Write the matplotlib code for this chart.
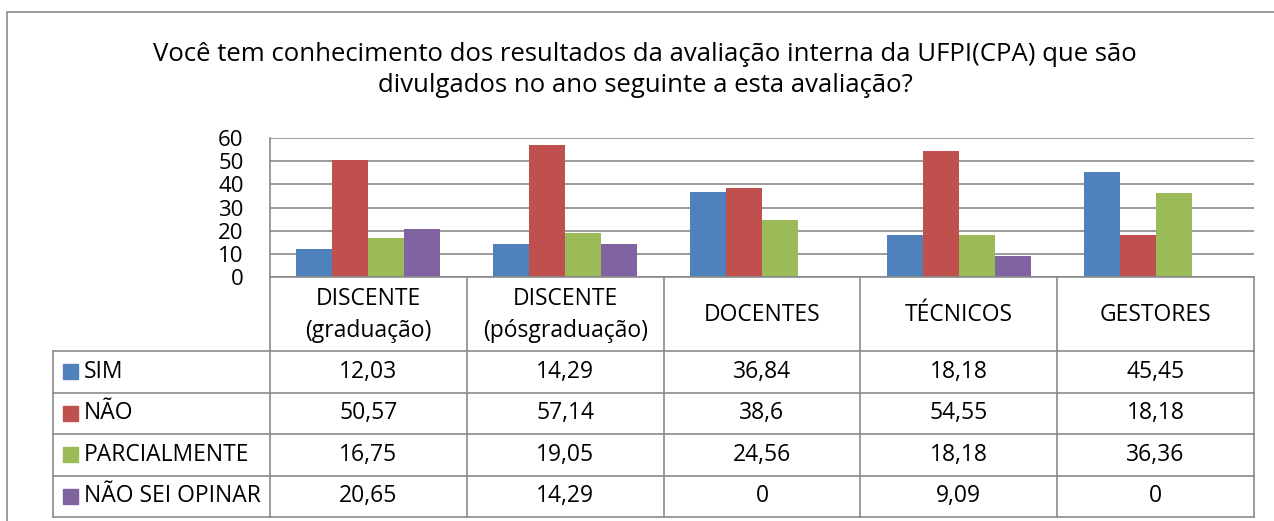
import matplotlib
matplotlib.use("Agg")
import matplotlib.pyplot as plt
import numpy as np

# --- data ---
categories = ["DISCENTE\n(graduação)", "DISCENTE\n(pósgraduação)", "DOCENTES",
              "TÉCNICOS", "GESTORES"]
series_names = ["SIM", "NÃO", "PARCIALMENTE", "NÃO SEI OPINAR"]
sim = [12.03, 14.29, 36.84, 18.18, 45.45]
nao = [50.57, 57.14, 38.6, 54.55, 18.18]
parcial = [16.75, 19.05, 24.56, 18.18, 36.36]
nao_sei = [20.65, 14.29, 0, 9.09, 0]
title = ("Você tem conhecimento dos resultados da avaliação interna da UFPI(CPA) que são\n"
         "divulgados no ano seguinte a esta avaliação?")
yticks = [0, 10, 20, 30, 40, 50, 60]

COLORS = ["#4F81BD", "#C0504D", "#9BBB59", "#8064A2"]
GRID = "#8a8a8a"
FONT = "Open Sans"
FS = 16.5

plt.rcParams["font.family"] = [FONT, "DejaVu Sans"]

W, H = 1274, 521
fig = plt.figure(figsize=(W / 100, H / 100), dpi=100)

# pixel-space helpers
def fx(px):
    return px / W

def fy(py):
    return 1 - py / H

x0, x1 = 270, 1254       # plot area
ytop, ybot = 138, 277    # 60 .. 0
ax = fig.add_axes([fx(x0), fy(ybot), fx(x1) - fx(x0), fy(ytop) - fy(ybot)])

values = [sim, nao, parcial, nao_sei]
n = len(categories)
bw = 0.183
xc = np.arange(n) + 0.5
for i, (vals, c) in enumerate(zip(values, COLORS)):
    ax.bar(xc + (i - 1.5) * bw, vals, width=bw, color=c, edgecolor="none", zorder=3)

ax.set_xlim(0, n)
ax.set_ylim(0, 60)
ax.set_yticks(yticks)
ax.set_yticklabels([str(t) for t in yticks], fontsize=16)
ax.tick_params(axis="y", length=0, pad=19)
ax.set_xticks([])
ax.grid(axis="y", color=GRID, linewidth=1.2, zorder=0)
for s in ("top", "right", "bottom"):
    ax.spines[s].set_visible(False)
ax.spines["left"].set_color(GRID)
ax.spines["left"].set_linewidth(1.2)

# overlay in pixel coordinates for title, border and data table
ov = fig.add_axes([0, 0, 1, 1], zorder=5)
ov.set_xlim(0, W)
ov.set_ylim(H, 0)
ov.axis("off")
ov.patch.set_alpha(0)

# outer chart border
ov.plot([7, 7, W + 5], [H + 5, 12, 12], color="#8a8a8a", lw=1.2)

ov.text(645, 70, title, ha="center", va="center", fontsize=18.5,
        linespacing=1.3, color="#000000")

# table geometry
col_w = (x1 - x0) / n
col_x = [x0 + k * col_w for k in range(n + 1)]
row_y = [277, 351, 392.5, 434, 475.5, 517]
leg_x = 53
lk = dict(color=GRID, lw=1.2, solid_capstyle="projecting")

ov.plot([x0, x1], [row_y[0], row_y[0]], **lk)
for yy in row_y[1:]:
    ov.plot([leg_x, x1], [yy, yy], **lk)
for xx in col_x:
    ov.plot([xx, xx], [row_y[0], row_y[-1]], **lk)
ov.plot([leg_x, leg_x], [row_y[1], row_y[-1]], **lk)

for k, cat in enumerate(categories):
    ov.text(col_x[k] + col_w / 2, (row_y[0] + row_y[1]) / 2 + 1, cat,
            ha="center", va="center", fontsize=FS, linespacing=1.4)

def fmt(v):
    s = f"{v:.2f}".rstrip("0").rstrip(".")
    return s.replace(".", ",")

for r, (name, vals, c) in enumerate(zip(series_names, values, COLORS)):
    yc = (row_y[r + 1] + row_y[r + 2]) / 2
    ov.add_patch(plt.Rectangle((63, yc - 7.5), 15, 15, color=c))
    ov.text(84, yc, name, ha="left", va="center", fontsize=FS)
    for k, v in enumerate(vals):
        ov.text(col_x[k] + col_w / 2, yc, fmt(v), ha="center", va="center",
                fontsize=FS)

fig.savefig("out.png", dpi=100, facecolor="white")
